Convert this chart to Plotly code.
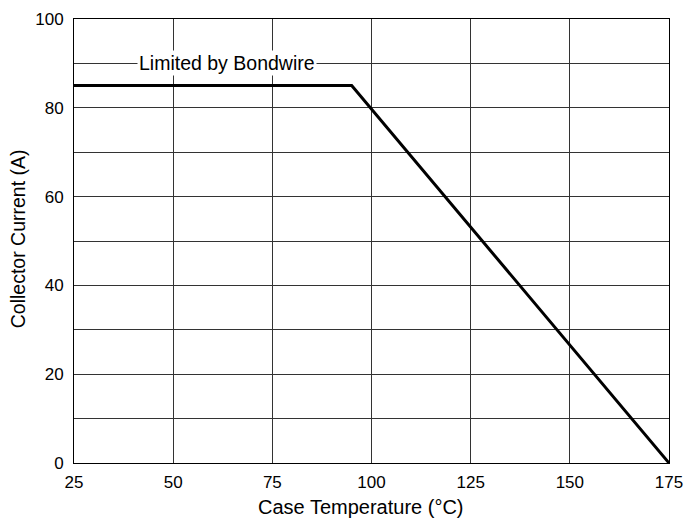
import plotly.graph_objects as go

temps = [25, 95, 175]
current = [85, 85, 0]
label_text = "Limited by Bondwire"
label_x = 63.5
label_y = 90
x_title = "Case Temperature (°C)"
y_title = "Collector Current (A)"

FONT = "Liberation Sans, Arial, Helvetica, sans-serif"

fig = go.Figure()
fig.add_trace(go.Scatter(x=temps, y=current, mode="lines",
                         line=dict(color="black", width=3), showlegend=False, hoverinfo="skip"))
fig.add_annotation(x=label_x, y=label_y, text=label_text, showarrow=False,
                   bgcolor="white", font=dict(family=FONT, size=19.5, color="black"),
                   borderpad=1)
fig.add_annotation(xref="paper", yref="paper", x=0.482, y=0, yanchor="middle", xanchor="center",
                   yshift=-44, text=x_title, showarrow=False,
                   font=dict(family=FONT, size=20, color="black"))
fig.add_annotation(xref="paper", yref="paper", x=0, y=0.505, yanchor="middle", xanchor="center",
                   xshift=-56.5, text=y_title, showarrow=False, textangle=-90,
                   font=dict(family=FONT, size=19.5, color="black"))

fig.update_layout(
    width=687, height=525,
    margin=dict(l=74, r=18, t=19, b=62),
    plot_bgcolor="white", paper_bgcolor="white",
    font=dict(family=FONT, size=17, color="black"),
    xaxis=dict(range=[25, 175], dtick=25, tick0=25, showgrid=True, gridcolor="#333333", gridwidth=1,
               showline=True, linecolor="black", linewidth=1, mirror=True, zeroline=False,
               ticks="", automargin=False, ticklabelstandoff=4),
    yaxis=dict(range=[0, 100], dtick=20, tick0=0, showgrid=True, gridcolor="#333333", gridwidth=1,
               minor=dict(dtick=10, showgrid=True, gridcolor="#333333", gridwidth=1),
               showline=True, linecolor="black", linewidth=1, mirror=True, zeroline=False,
               ticks="", automargin=False, ticklabelstandoff=6),
)
fig.write_html("out.html", config={"displayModeBar": False},
               post_script="document.body.style.margin='0';document.body.style.padding='0';")
